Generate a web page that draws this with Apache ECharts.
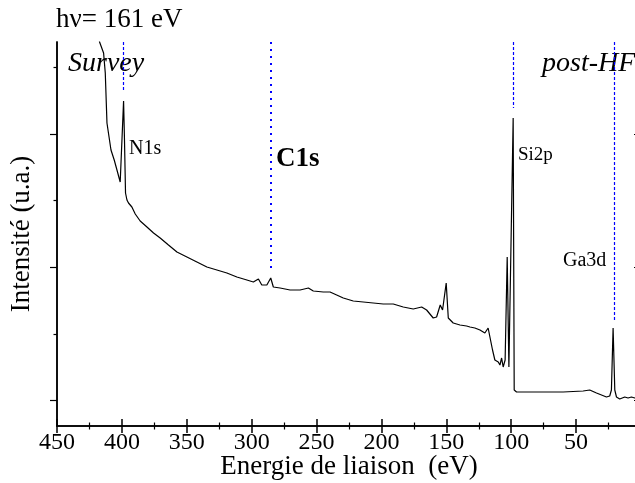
<!DOCTYPE html>
<html>
<head>
<meta charset="utf-8">
<script src="https://cdn.jsdelivr.net/npm/echarts@6/dist/echarts.min.js"></script>
<style>
  html, body { margin: 0; padding: 0; background: #fff; }
  #xps { width: 635px; height: 483px; }
</style>
</head>
<body>
<div id="xps"></div>
<script>
var serif = 'Liberation Serif, Times New Roman, serif';

// binding energy (eV) and intensity (u.a.)
var energie = [419.0, 417.2, 414.1, 412.8, 411.5, 408.4, 405.9, 403.8, 401.3, 400.0,
  398.7, 398.0, 397.2, 396.1, 394.9, 392.3, 389.7, 385.9, 380.7, 375.6,
  370.5, 364.1, 357.6, 349.9, 342.2, 334.5, 326.8, 319.1, 311.4, 303.7,
  298.7, 294.8, 292.2, 288.3, 285.3, 283.3, 278.1, 270.4, 262.7, 256.3,
  252.5, 244.8, 239.6, 234.5, 229.4, 221.7, 214.0, 206.3, 198.6, 190.9,
  183.2, 175.5, 169.0, 165.2, 160.1, 157.5, 154.7, 152.9, 150.1, 148.5,
  144.7, 139.5, 134.4, 131.8, 128.0, 124.1, 120.3, 117.8, 116.4, 114.4,
  112.6, 110.0, 108.7, 107.4, 106.2, 104.7, 103.1, 101.8, 100.7, 98.5,
  97.7, 95.9, 85.7, 70.3, 60.0, 44.6, 39.5, 34.3, 26.6, 24.1,
  22.8, 21.5, 20.2, 18.9, 16.4, 12.5, 10.0, 7.4, 4.8, 0.8];
var intensite = [406, 384, 373, 353, 303, 276, 266, 256, 244, 246,
  325, 286, 233, 226, 223, 219, 212, 205, 199, 193,
  188, 181, 174, 169, 164, 159, 156, 153, 149, 146,
  144, 147, 141, 141, 148, 139, 138, 136, 136, 138,
  135, 134, 134, 131, 128, 125, 124, 123, 122, 122,
  119, 117, 119, 116, 108, 109, 121, 116, 143, 108,
  103, 101, 100, 99, 98, 96, 93, 98, 97, 76,
  66, 64, 61, 68, 59, 66, 169, 59, 59, 308,
  36, 34, 34, 34, 34, 35, 36, 33, 29, 30,
  36, 98, 36, 29, 27, 29, 28, 29, 28, 29];

// reference lines for the core levels
var niveaux = ['N1s', 'C1s', 'Si2p', 'Ga3d'];
var niveauxEnergie = [398.7, 285.0, 98.5, 20.8];
var niveauxBas = [336, 154, 318, 105];

var yMajor = [26, 159, 292];
var yMinor = [92, 226, 359];
var yMax = 384;

var points = energie.map(function (e, i) { return [e, intensite[i]]; });

var lignes = niveaux.map(function (n, i) {
  var pointille = n === 'C1s';
  var style = { color: '#0000ff', width: pointille ? 2 : 1.2, type: pointille ? [2, 5] : [3, 2] };
  return [
    { coord: [niveauxEnergie[i], yMax], lineStyle: style },
    { coord: [niveauxEnergie[i], niveauxBas[i]], lineStyle: style }
  ];
});

var axeX = {
  type: 'value', inverse: true, min: 0, max: 450, interval: 50,
  axisLine: { lineStyle: { color: '#000', width: 1.5 } },
  axisTick: { inside: true, length: 7, lineStyle: { color: '#000', width: 1.5 } },
  minorTick: { show: true, splitNumber: 2, length: 3.5, lineStyle: { color: '#000', width: 1.2 } },
  splitLine: { show: false }
};

function axeY(position, valeurs, longueur, inside) {
  return {
    type: 'value', position: position, min: 0, max: yMax,
    axisLine: { show: true, onZero: false, lineStyle: { color: '#000', width: 1.5 } },
    axisTick: { show: true, inside: inside, length: longueur, customValues: valeurs,
      lineStyle: { color: '#000', width: 1.2 } },
    axisLabel: { show: false },
    splitLine: { show: false }
  };
}

var chart = echarts.init(document.getElementById('xps'));

var option = {
  backgroundColor: '#fff',
  animation: false,
  grid: { left: 57, right: -6, top: 42, bottom: 57, outerBoundsMode: 'none', containLabel: false },
  xAxis: [
    Object.assign({}, axeX, {
      position: 'bottom',
      name: 'Energie de liaison  (eV)', nameLocation: 'middle', nameGap: 27,
      nameMoveOverlap: false,
      nameTextStyle: { fontFamily: serif, fontSize: 27, color: '#000' },
      axisLabel: { color: '#000', fontFamily: serif, fontSize: 24, margin: 5,
        formatter: function (v) { return v === 0 ? '' : v; } }
    }),
    Object.assign({}, axeX, { position: 'top', axisLabel: { show: false } })
  ],
  yAxis: [
    Object.assign(axeY('left', yMajor, 7, false), {
      name: 'Intensité (u.a.)', nameLocation: 'middle', nameGap: 22,
      nameMoveOverlap: false,
      nameTextStyle: { fontFamily: serif, fontSize: 27, color: '#000' }
    }),
    axeY('left', yMinor, 3.5, false),
    axeY('right', yMajor, 7, true),
    axeY('right', yMinor, 3.5, true)
  ],
  graphic: [
    { type: 'text', left: 56, top: 6, style: { text: 'hν= 161 eV', font: '27px ' + serif, fill: '#000' } },
    { type: 'text', left: 68, top: 50, style: { text: 'Survey', font: 'italic 28px ' + serif, fill: '#000' } },
    { type: 'text', left: 542, top: 50, style: { text: 'post-HF', font: 'italic 28px ' + serif, fill: '#000' } },
    { type: 'text', left: 129, top: 139, style: { text: 'N1s', font: '20px ' + serif, fill: '#000' } },
    { type: 'text', left: 276, top: 146, style: { text: 'C1s', font: 'bold 27px ' + serif, fill: '#000' } },
    { type: 'text', left: 518, top: 146, style: { text: 'Si2p', font: '19px ' + serif, fill: '#000' } },
    { type: 'text', left: 563, top: 251, style: { text: 'Ga3d', font: '20px ' + serif, fill: '#000' } }
  ],
  series: [{
    type: 'line',
    data: points,
    showSymbol: false,
    clip: true,
    lineStyle: { color: '#000', width: 1.2 },
    markLine: {
      silent: true, symbol: 'none', label: { show: false },
      lineStyle: { color: '#0000ff' },
      data: lignes
    }
  }]
};

chart.setOption(option);
</script>
</body>
</html>
